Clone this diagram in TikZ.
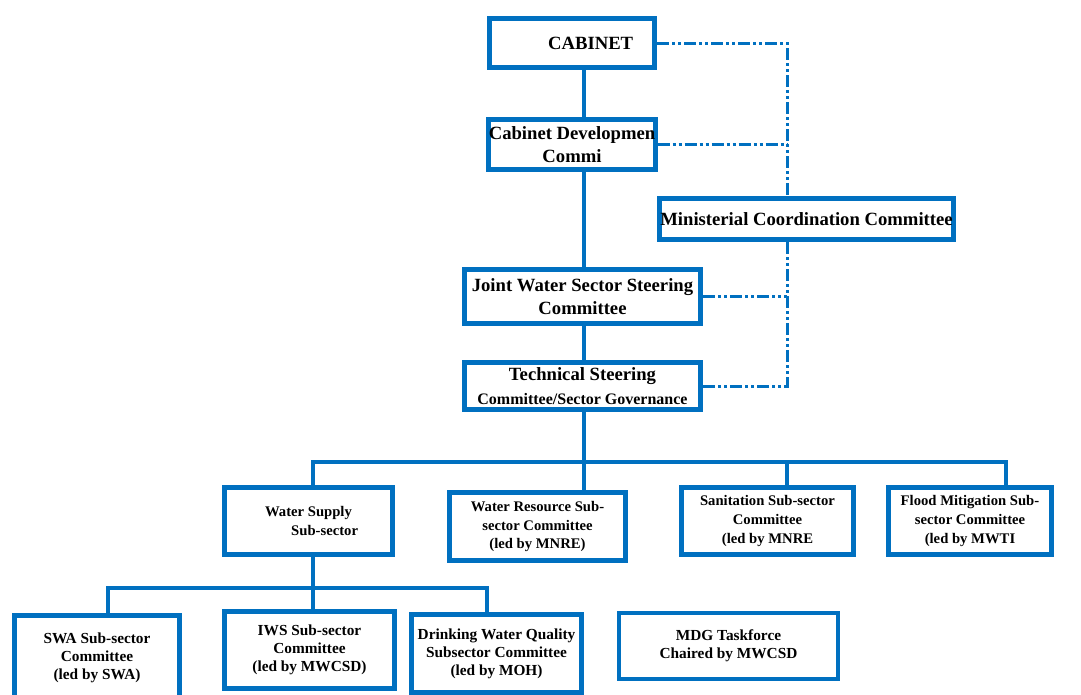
\documentclass[tikz,border=0pt]{standalone}
\usepackage{fontspec}
\setmainfont{Liberation Serif}
\usetikzlibrary{positioning}
\definecolor{orgblue}{HTML}{0070C0}
\tikzset{
	box/.style={draw=orgblue, line width=3.75pt, fill=white, align=center, inner sep=0pt, font=\bfseries},
	big/.style={font=\fontsize{14}{17.5}\selectfont\bfseries},
	mid/.style={font=\fontsize{11}{14}\selectfont\bfseries},
	low/.style={font=\fontsize{11.5}{13.5}\selectfont\bfseries},
	link/.style={draw=orgblue, line width=3pt},
	dotlink/.style={draw=orgblue, line width=2.25pt, dash pattern=on 9pt off 2.25pt on 2.25pt off 2.25pt on 2.25pt off 2.25pt},
}

\begin{document}
\begin{tikzpicture}[x=0.75pt, y=-0.75pt]
\useasboundingbox (0,0) rectangle (1081,694);
% top of the structure
\node[box, big, minimum width=165*0.75pt, minimum height=49*0.75pt] (cab) at (572,43) {\hspace*{2em}CABINET};
\node[box, big, minimum width=165*0.75pt, minimum height=50*0.75pt] (cdc) at (572,144.5) {Cabinet Developmen\\Commi};
\node[box, big, minimum width=294*0.75pt, minimum height=41*0.75pt] (mcc) at (806.5,219) {Ministerial Coordination Committee};
\node[box, big, minimum width=236*0.75pt, minimum height=54*0.75pt] (jws) at (582.5,296.5) {Joint Water Sector Steering\\Committee};
\node[box, big, minimum width=236*0.75pt, minimum height=47*0.75pt] (tsc) at (582.5,386) {Technical Steering\\{\fontsize{12}{14}\selectfont Committee/Sector Governance}};
% sub-sectors
\node[box, mid, minimum width=168*0.75pt, minimum height=67*0.75pt] (wss) at (308.5,521) {Water Supply\\\hspace*{2.2em}Sub-sector};
\node[box, mid, minimum width=176*0.75pt, minimum height=68*0.75pt] (wrs) at (537.5,526.5) {Water Resource Sub-\\sector Committee\\(led by MNRE)};
\node[box, mid, minimum width=172*0.75pt, minimum height=67*0.75pt] (san) at (767.5,521) {Sanitation Sub-sector\\Committee\\(led by MNRE};
\node[box, mid, minimum width=163*0.75pt, minimum height=67*0.75pt] (flm) at (970,521) {Flood Mitigation Sub-\\sector Committee\\(led by MWTI};
% water supply committees
\node[box, low, minimum width=165*0.75pt, minimum height=85*0.75pt] (swa) at (97,657.5) {SWA Sub-sector\\Committee\\(led by SWA)};
\node[box, low, minimum width=170*0.75pt, minimum height=77*0.75pt] (iws) at (309.5,650) {IWS Sub-sector\\Committee\\(led by MWCSD)};
\node[box, low, minimum width=170*0.75pt, minimum height=78*0.75pt] (dwq) at (496.5,653.5) {Drinking Water Quality\\Subsector Committee\\(led by MOH)};
\node[box, low, line width=3pt, minimum width=219*0.75pt, minimum height=66*0.75pt] (mdg) at (728.5,646) {MDG Taskforce\\Chaired by MWCSD};

\coordinate (trunk) at (584,462);
\coordinate (b1) at (313,462);
\coordinate (b3) at (787,462);
\coordinate (b4) at (1006,462);
\coordinate (c1) at (108,588);
\coordinate (c2) at (313,588);
\coordinate (c3) at (487,588);
\coordinate (ml) at (787,0);

\begin{scope}[on background layer/.try]
\draw[link] (cab.south -| trunk) -- (cdc.north -| trunk);
\draw[link] (cdc.south -| trunk) -- (jws.north -| trunk);
\draw[link] (jws.south -| trunk) -- (tsc.north -| trunk);
\draw[link] (tsc.south -| trunk) -- (wrs.north -| trunk);
\draw[link] (wss.north -| b1) -- (b1) -- (b4) -- (flm.north -| b4);
\draw[link] (b3) -- (san.north -| b3);
\draw[link] (wss.south -| c2) -- (iws.north -| c2);
\draw[link] (swa.north -| c1) -- (c1) -- (c3) -- (dwq.north -| c3);
\draw[dotlink] (cab.east) -| (mcc.north -| ml);
\draw[dotlink] (cdc.east) -- (cdc.east -| ml);
\draw[dotlink] (mcc.south -| ml) |- (tsc.east);
\draw[dotlink] (jws.east) -- (jws.east -| ml);
\end{scope}
\end{tikzpicture}
\end{document}
